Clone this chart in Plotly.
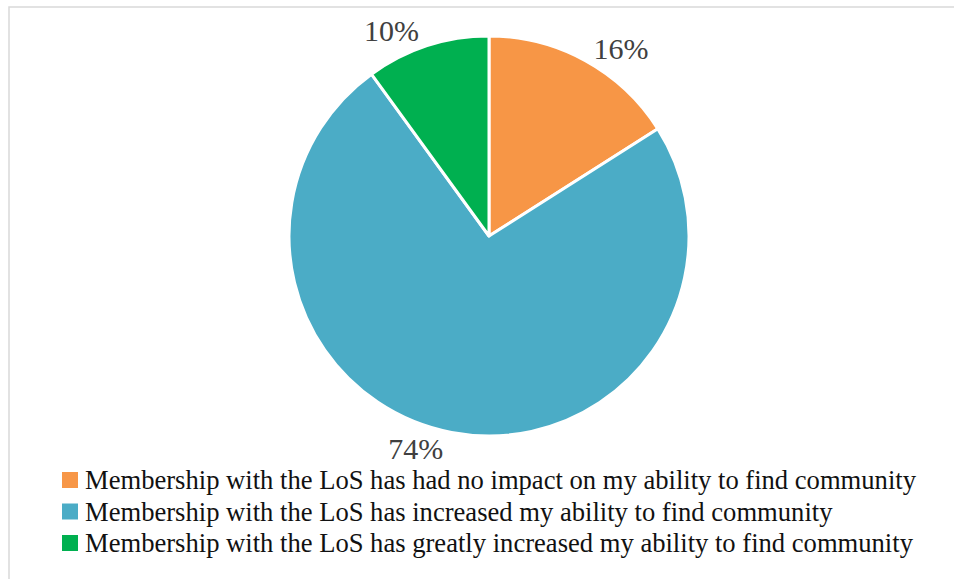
import plotly.graph_objects as go

# Survey responses: effect of LoS membership on finding community
categories = [
    "Membership with the LoS has had no impact on my ability to find community",
    "Membership with the LoS has increased my ability to find community",
    "Membership with the LoS has greatly increased my ability to find community",
]
shares = [16, 74, 10]
colors = ["#F79646", "#4BACC6", "#00B050"]

W, H = 954, 579
cx, cy, r = 489, 236, 200  # pie centre and radius in pixels
SERIF = "Liberation Serif"

fig = go.Figure(
    go.Pie(
        labels=categories,
        values=shares,
        sort=False,
        direction="clockwise",
        rotation=0,
        marker=dict(colors=colors, line=dict(color="white", width=3)),
        texttemplate="%{value}%",
        textposition="outside",
        outsidetextfont=dict(family=SERIF, size=30, color="#404040"),
        domain=dict(
            x=[(cx - r) / W, (cx + r) / W],
            y=[(H - cy - r) / H, (H - cy + r) / H],
        ),
        hoverinfo="label+percent",
        showlegend=False,
    )
)

# Legend drawn as a compact block below the pie: colour square + category text
legend_top = 480      # centre of first row, px from top
row_step = 31.5       # px between rows
sq = 16               # square size, px
sq_x0 = 62
text_x = 83

shapes = [
    dict(
        type="rect",
        xref="paper",
        yref="paper",
        x0=9 / W,
        x1=1.05,
        y0=-0.05,
        y1=(H - 7) / H,
        line=dict(color="#d9d9d9", width=1.5),
        layer="below",
    )
]
annotations = []
for i, (name, col) in enumerate(zip(categories, colors)):
    yc = legend_top + i * row_step
    shapes.append(
        dict(
            type="rect",
            xref="paper",
            yref="paper",
            x0=sq_x0 / W,
            x1=(sq_x0 + sq) / W,
            y0=(H - yc - sq / 2) / H,
            y1=(H - yc + sq / 2) / H,
            fillcolor=col,
            line=dict(width=0),
        )
    )
    annotations.append(
        dict(
            text=name,
            xref="paper",
            yref="paper",
            x=text_x / W,
            y=(H - yc) / H,
            xanchor="left",
            yanchor="middle",
            showarrow=False,
            font=dict(family=SERIF, size=26.6, color="#111111"),
        )
    )

fig.update_layout(
    width=W,
    height=H,
    margin=dict(l=0, r=0, t=0, b=0),
    paper_bgcolor="white",
    font=dict(family=SERIF),
    showlegend=False,
    shapes=shapes,
    annotations=annotations,
)

fig.write_html("out.html")
